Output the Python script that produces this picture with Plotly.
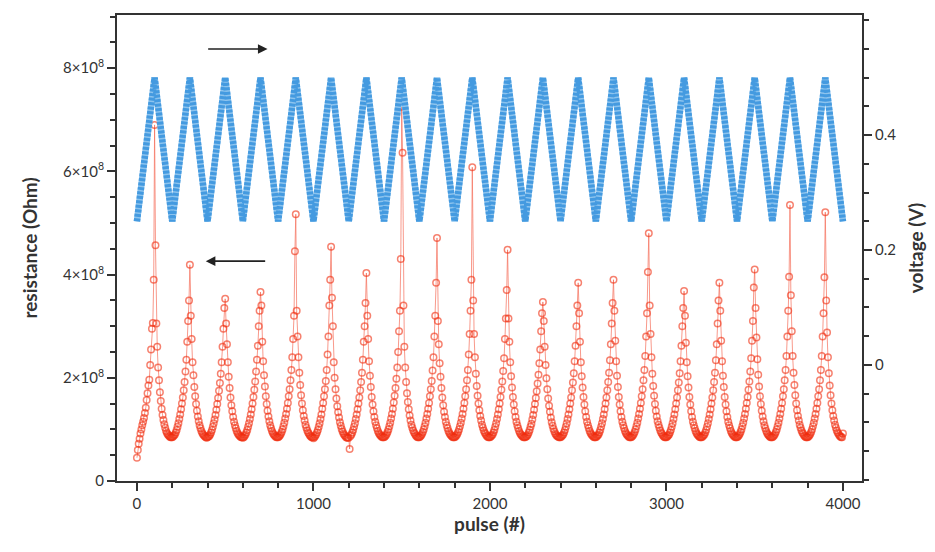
import plotly.graph_objects as go

# ---------------- data ----------------
# Blue: applied voltage sweep (turning points of the triangular sweep)
voltage_pulse = [0, 100, 200, 300, 400, 500, 600, 700, 800, 900, 1000,
                 1100, 1200, 1300, 1400, 1500, 1600, 1700, 1800, 1900, 2000,
                 2100, 2200, 2300, 2400, 2500, 2600, 2700, 2800, 2900, 3000,
                 3100, 3200, 3300, 3400, 3500, 3600, 3700, 3800, 3900, 4000]
voltage_V = [0.25, 0.5, 0.25, 0.5, 0.25, 0.5, 0.25, 0.5, 0.25, 0.5, 0.25,
             0.5, 0.25, 0.5, 0.25, 0.5, 0.25, 0.5, 0.25, 0.5, 0.25,
             0.5, 0.25, 0.5, 0.25, 0.5, 0.25, 0.5, 0.25, 0.5, 0.25,
             0.5, 0.25, 0.5, 0.25, 0.5, 0.25, 0.5, 0.25, 0.5, 0.25]

# Red: resistance (units of 1e8 Ohm), read every 5 pulses, one row per 200-pulse cycle
res_c00 = [0.45,0.60,0.72,0.82,0.92,1.00,1.08,1.15,1.22,1.32,1.42,1.57,1.70,1.85,1.96,2.25,2.55,2.95,3.06,3.90,6.90,4.57,3.05,2.60,2.20,1.95,1.72,1.55,1.40,1.28,1.18,1.10,1.03,0.97,0.93,0.90,0.88,0.86,0.85,0.85]
res_c01 = [0.85,0.86,0.88,0.90,0.94,0.99,1.05,1.12,1.20,1.29,1.39,1.50,1.62,1.76,1.92,2.12,2.35,2.70,3.10,3.50,4.19,3.20,2.75,2.30,2.05,1.82,1.64,1.49,1.36,1.25,1.16,1.08,1.02,0.97,0.93,0.90,0.88,0.86,0.85,0.84]
res_c02 = [0.85,0.86,0.87,0.90,0.94,0.99,1.05,1.12,1.19,1.28,1.38,1.49,1.61,1.75,1.90,2.08,2.30,2.60,2.95,3.35,3.53,3.05,2.65,2.30,2.02,1.80,1.62,1.47,1.35,1.24,1.15,1.08,1.02,0.97,0.93,0.90,0.88,0.86,0.85,0.85]
res_c03 = [0.84,0.85,0.87,0.90,0.94,0.99,1.05,1.12,1.20,1.29,1.39,1.50,1.63,1.77,1.93,2.12,2.35,2.62,3.00,3.30,3.66,3.40,2.70,2.32,2.05,1.83,1.64,1.49,1.36,1.25,1.16,1.08,1.02,0.97,0.93,0.90,0.88,0.86,0.85,0.85]
res_c04 = [0.85,0.86,0.88,0.91,0.95,1.00,1.06,1.13,1.21,1.30,1.40,1.51,1.64,1.78,1.95,2.15,2.40,2.75,3.20,4.45,5.17,3.30,2.80,2.40,2.10,1.86,1.66,1.50,1.37,1.26,1.17,1.09,1.03,0.98,0.94,0.91,0.88,0.86,0.85,0.85]
res_c05 = [0.83,0.85,0.87,0.90,0.94,0.99,1.05,1.12,1.20,1.29,1.40,1.51,1.64,1.78,1.94,2.15,2.45,2.80,3.40,3.90,4.54,3.55,3.00,2.30,2.00,1.78,1.60,1.45,1.33,1.23,1.14,1.07,1.01,0.96,0.92,0.89,0.87,0.85,0.84,0.84]
res_c06 = [0.84,0.62,0.87,0.90,0.94,0.99,1.05,1.12,1.20,1.29,1.39,1.50,1.62,1.76,1.92,2.10,2.35,2.70,3.00,3.45,4.03,3.20,2.75,2.32,2.04,1.82,1.63,1.48,1.35,1.24,1.15,1.08,1.02,0.97,0.93,0.90,0.88,0.86,0.85,0.85]
res_c07 = [0.85,0.86,0.88,0.91,0.95,1.00,1.06,1.13,1.21,1.30,1.40,1.52,1.65,1.80,1.98,2.20,2.50,2.90,3.30,4.30,7.25,6.36,3.40,2.60,2.20,1.92,1.70,1.53,1.39,1.27,1.17,1.09,1.03,0.98,0.94,0.91,0.88,0.86,0.85,0.85]
res_c08 = [0.85,0.86,0.88,0.91,0.95,1.00,1.06,1.13,1.21,1.30,1.40,1.51,1.64,1.78,1.94,2.14,2.40,2.80,3.20,3.84,4.71,3.10,2.65,2.28,2.02,1.80,1.62,1.47,1.34,1.24,1.15,1.08,1.02,0.97,0.93,0.90,0.88,0.86,0.85,0.85]
res_c09 = [0.85,0.86,0.88,0.91,0.95,1.00,1.06,1.13,1.21,1.30,1.40,1.51,1.64,1.78,1.95,2.15,2.45,2.85,3.30,3.90,6.08,3.50,2.85,2.40,2.08,1.84,1.65,1.50,1.37,1.26,1.17,1.09,1.03,0.98,0.94,0.91,0.88,0.86,0.85,0.85]
res_c10 = [0.85,0.86,0.88,0.90,0.94,0.99,1.05,1.12,1.20,1.29,1.39,1.50,1.63,1.77,1.93,2.13,2.38,2.75,3.15,3.70,4.48,3.15,2.70,2.30,2.03,1.81,1.63,1.48,1.35,1.24,1.15,1.08,1.02,0.97,0.93,0.90,0.88,0.86,0.85,0.85]
res_c11 = [0.85,0.86,0.87,0.90,0.94,0.99,1.05,1.11,1.19,1.28,1.38,1.49,1.61,1.74,1.89,2.06,2.28,2.55,2.90,3.25,3.47,3.10,2.60,2.25,1.99,1.78,1.60,1.46,1.34,1.23,1.14,1.07,1.01,0.96,0.92,0.89,0.87,0.86,0.85,0.85]
res_c12 = [0.85,0.86,0.88,0.90,0.94,0.99,1.05,1.12,1.20,1.29,1.39,1.50,1.62,1.76,1.91,2.09,2.32,2.62,3.00,3.40,3.84,3.25,2.70,2.30,2.03,1.81,1.63,1.48,1.35,1.24,1.15,1.08,1.02,0.97,0.93,0.90,0.88,0.86,0.85,0.85]
res_c13 = [0.85,0.86,0.88,0.90,0.94,0.99,1.05,1.12,1.20,1.29,1.39,1.50,1.62,1.76,1.92,2.10,2.34,2.65,3.05,3.45,3.90,3.30,2.72,2.32,2.04,1.82,1.63,1.48,1.35,1.24,1.15,1.08,1.02,0.97,0.93,0.90,0.88,0.86,0.85,0.85]
res_c14 = [0.85,0.86,0.88,0.91,0.95,1.00,1.06,1.13,1.21,1.30,1.40,1.51,1.64,1.78,1.95,2.15,2.42,2.80,3.25,4.05,4.80,3.40,2.85,2.40,2.08,1.84,1.65,1.49,1.36,1.25,1.16,1.09,1.03,0.98,0.94,0.91,0.88,0.86,0.85,0.85]
res_c15 = [0.85,0.86,0.88,0.90,0.94,0.99,1.05,1.12,1.20,1.29,1.39,1.50,1.62,1.76,1.91,2.09,2.32,2.62,3.00,3.35,3.68,3.20,2.68,2.30,2.03,1.81,1.63,1.48,1.35,1.24,1.15,1.08,1.02,0.97,0.93,0.90,0.88,0.86,0.85,0.85]
res_c16 = [0.85,0.86,0.88,0.90,0.94,0.99,1.05,1.12,1.20,1.29,1.39,1.50,1.62,1.76,1.92,2.10,2.34,2.65,3.05,3.50,3.84,3.30,2.72,2.32,2.04,1.82,1.63,1.48,1.35,1.24,1.15,1.08,1.02,0.97,0.93,0.90,0.88,0.86,0.85,0.85]
res_c17 = [0.85,0.86,0.88,0.91,0.95,1.00,1.06,1.13,1.21,1.30,1.40,1.51,1.63,1.77,1.93,2.12,2.38,2.72,3.10,3.75,4.10,3.35,2.78,2.36,2.06,1.83,1.64,1.49,1.36,1.25,1.16,1.08,1.02,0.97,0.93,0.90,0.88,0.86,0.85,0.85]
res_c18 = [0.85,0.86,0.88,0.91,0.95,1.00,1.06,1.13,1.21,1.30,1.40,1.51,1.64,1.78,1.95,2.15,2.42,2.80,3.30,3.96,5.35,3.60,2.90,2.42,2.10,1.86,1.66,1.50,1.37,1.26,1.17,1.09,1.03,0.98,0.94,0.91,0.88,0.86,0.85,0.85]
res_c19 = [0.85,0.86,0.88,0.91,0.95,1.00,1.06,1.13,1.21,1.30,1.40,1.51,1.64,1.78,1.95,2.15,2.42,2.80,3.25,3.95,5.21,3.50,2.88,2.40,2.09,1.85,1.66,1.50,1.37,1.26,1.17,1.09,1.03,0.98,0.94,0.91,0.88,0.86,0.85,0.85]
res_end = [0.92]

res_rows = [res_c00, res_c01, res_c02, res_c03, res_c04, res_c05, res_c06, res_c07,
            res_c08, res_c09, res_c10, res_c11, res_c12, res_c13, res_c14, res_c15,
            res_c16, res_c17, res_c18, res_c19, res_end]
resistance = [v * 1e8 for row in res_rows for v in row]
res_pulse = list(range(0, 5 * len(resistance), 5))

left_tickvals = [0, 2e8, 4e8, 6e8, 8e8]
left_ticktext = ["0", "2×10<sup>8</sup>", "4×10<sup>8</sup>", "6×10<sup>8</sup>", "8×10<sup>8</sup>"]
right_tickvals = [0, 0.2, 0.4]
right_ticktext = ["0", "0.2", "0.4"]
x_tickvals = [0, 1000, 2000, 3000, 4000]

# ---------------- figure ----------------
FONT = "Lato, 'DejaVu Sans', sans-serif"
AX = "#333333"

fig = go.Figure()

# voltage band: light underlay plus finely dashed darker layer (dense-marker texture)
fig.add_trace(go.Scatter(
    x=voltage_pulse, y=voltage_V, yaxis="y2", mode="lines",
    line=dict(color="rgba(140,195,238,1)", width=6.5),
    showlegend=False, hoverinfo="skip"))
fig.add_trace(go.Scatter(
    x=voltage_pulse, y=voltage_V, yaxis="y2", mode="lines",
    line=dict(color="rgba(60,150,222,0.9)", width=6.5, dash="3px,1.5px"),
    showlegend=False, hoverinfo="skip"))

fig.add_trace(go.Scatter(
    x=res_pulse, y=resistance, mode="lines+markers",
    line=dict(color="rgba(245,110,90,0.7)", width=1),
    marker=dict(symbol="circle-open", size=6.5,
                color="rgba(240,45,15,0.6)", line=dict(width=1.5)),
    showlegend=False, hoverinfo="skip"))

# the page body adds an 8 px offset, so the figure is sized to the remaining window
fig.update_layout(
    width=927, height=544,
    margin=dict(l=109, r=73, t=7, b=71),
    paper_bgcolor="white", plot_bgcolor="white",
    font=dict(family=FONT, color=AX, size=15),
    xaxis=dict(
        range=[-113, 4108], tickvals=x_tickvals, ticks="outside", ticklen=8,
        tickwidth=2, tickcolor=AX, automargin=False,
        minor=dict(dtick=200, tick0=0, ticks="outside", ticklen=5, tickwidth=1.5, tickcolor=AX),
        showline=True, linecolor=AX, linewidth=2, mirror=True,
        showgrid=False, zeroline=False,
        tickfont=dict(size=15),
        title=dict(text="pulse (#)", font=dict(size=19, weight="bold"), standoff=4),
    ),
    yaxis=dict(
        range=[0, 9.03e8], tickvals=left_tickvals, ticktext=left_ticktext,
        ticks="outside", ticklen=8, tickwidth=2, tickcolor=AX, automargin=False,
        minor=dict(dtick=0.5e8, tick0=0, ticks="outside", ticklen=5, tickwidth=1.5, tickcolor=AX),
        showline=True, linecolor=AX, linewidth=2, mirror=True,
        showgrid=False, zeroline=False,
        tickfont=dict(size=15),
        title=dict(text="resistance (Ohm)", font=dict(size=19, weight="bold"), standoff=20),
    ),
    yaxis2=dict(
        overlaying="y", side="right", automargin=False,
        range=[-0.202, 0.609], tickvals=right_tickvals, ticktext=right_ticktext,
        ticks="outside", ticklen=8, tickwidth=2, tickcolor=AX,
        minor=dict(dtick=0.05, tick0=0, ticks="outside", ticklen=5, tickwidth=1.5, tickcolor=AX),
        showline=True, linecolor=AX, linewidth=2,
        showgrid=False, zeroline=False,
        tickfont=dict(size=15),
        title=dict(text="voltage (V)", font=dict(size=19, weight="bold"), standoff=14),
    ),
)

# direction arrows
fig.add_annotation(x=740, y=8.37e8, ax=395, ay=8.37e8, xref="x", yref="y",
                   axref="x", ayref="y", text="", showarrow=True,
                   arrowhead=2, arrowsize=1.2, arrowwidth=1.6, arrowcolor="#222222")
fig.add_annotation(x=390, y=4.26e8, ax=735, ay=4.26e8, xref="x", yref="y",
                   axref="x", ayref="y", text="", showarrow=True,
                   arrowhead=2, arrowsize=1.2, arrowwidth=1.6, arrowcolor="#222222")

fig.write_html("out.html")
